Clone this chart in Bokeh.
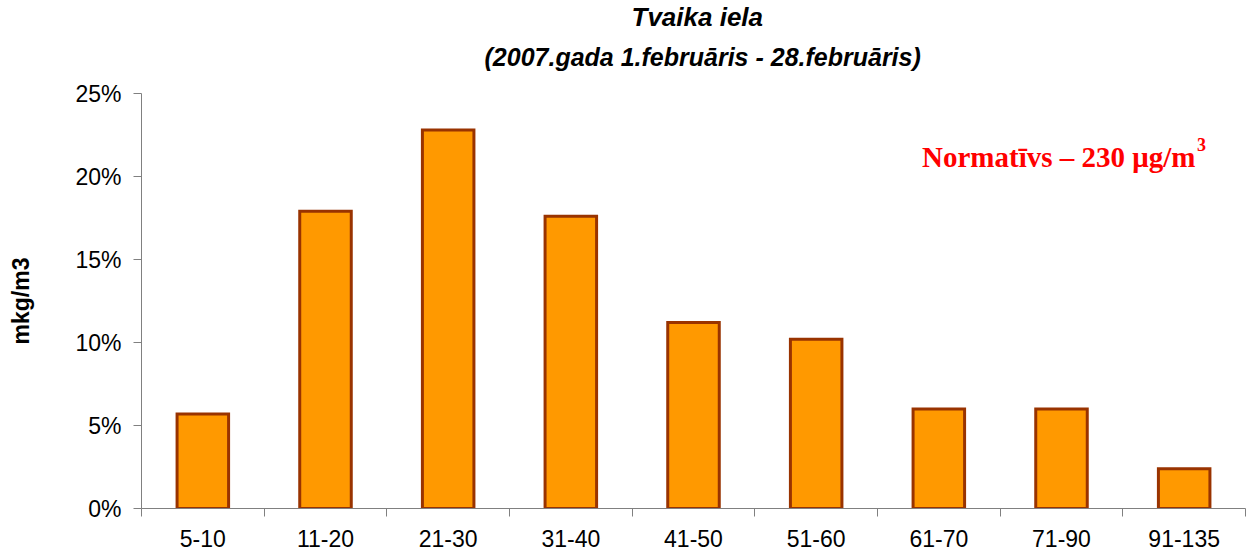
from bokeh.plotting import figure
from bokeh.models import Range1d, FixedTicker, NumeralTickFormatter, Label, Title
from bokeh.embed import file_html
from bokeh.resources import INLINE

# ---- data ----
categories = ["5-10", "11-20", "21-30", "31-40", "41-50", "51-60", "61-70", "71-90", "91-135"]
shares = [0.057, 0.179, 0.228, 0.176, 0.112, 0.102, 0.060, 0.060, 0.024]
y_ticks = [0.0, 0.05, 0.10, 0.15, 0.20, 0.25]
title_lines = ["Tvaika iela", "(2007.gada 1.februāris - 28.februāris)"]
y_label = "mkg/m3"
note_text = "Normatīvs – 230 μg/m"
note_sup = "3"

positions = list(range(1, len(categories) + 1))

p = figure(width=1248, height=555, output_backend="svg", toolbar_location=None,
           x_range=Range1d(0.5, len(categories) + 0.5), y_range=Range1d(0, 0.25),
           min_border_left=141, min_border_right=3, min_border_top=93, min_border_bottom=47)
p.outline_line_color = None
p.grid.visible = False
p.background_fill_color = "white"

p.vbar(x=positions, top=shares, width=0.42, fill_color="#FF9900",
       line_color="#993300", line_width=3, line_join="miter")

axis_col = "#808080"
# x axis: labels at category centres, tick marks at boundaries
xa = p.xaxis[0]
xa.ticker = FixedTicker(ticks=positions, minor_ticks=[i + 0.5 for i in range(len(categories) + 1)])
xa.major_label_overrides = {pos: cat for pos, cat in zip(positions, categories)}
xa.major_tick_line_color = None
xa.major_tick_out = 8
xa.major_tick_in = 0
xa.minor_tick_line_color = axis_col
xa.minor_tick_out = 8
xa.minor_tick_in = 0
xa.axis_line_color = axis_col
xa.major_label_text_font = "Liberation Sans"
xa.major_label_text_font_size = "23px"
xa.major_label_text_color = "black"
xa.major_label_standoff = 13

ya = p.yaxis[0]
ya.ticker = FixedTicker(ticks=y_ticks, minor_ticks=[])
ya.formatter = NumeralTickFormatter(format="0%")
ya.major_tick_out = 8
ya.major_tick_in = 0
ya.major_tick_line_color = axis_col
ya.minor_tick_line_color = None
ya.axis_line_color = axis_col
ya.major_label_text_font = "Liberation Sans"
ya.major_label_text_font_size = "23px"
ya.major_label_text_color = "black"
ya.major_label_standoff = 12
ya.axis_label = y_label
ya.axis_label_text_font = "Liberation Sans"
ya.axis_label_text_font_style = "bold"
ya.axis_label_text_font_size = "23px"
ya.axis_label_text_color = "black"
ya.axis_label_standoff = 38

# two-line title (second line added first so it sits nearest the plot)
p.add_layout(Title(text=title_lines[1], align="left", offset=343, text_font="Liberation Sans",
                   text_font_style="bold italic", text_font_size="25px",
                   text_color="black", standoff=46), "above")
p.add_layout(Title(text=title_lines[0], align="left", offset=490, text_font="Liberation Sans",
                   text_font_style="bold italic", text_font_size="26px",
                   text_color="black", standoff=-28), "above")

# red note
p.add_layout(Label(x=6.863, y=0.2120, text=note_text, text_align="left",
                   text_baseline="alphabetic", text_font="Liberation Serif",
                   text_font_style="bold", text_font_size="29px", text_color="#FF0000"))
p.add_layout(Label(x=9.105, y=0.2193, text=note_sup, text_align="left",
                   text_baseline="alphabetic", text_font="Liberation Serif",
                   text_font_style="bold", text_font_size="18px", text_color="#FF0000"))

open("out.html", "w").write(file_html(p, INLINE))
